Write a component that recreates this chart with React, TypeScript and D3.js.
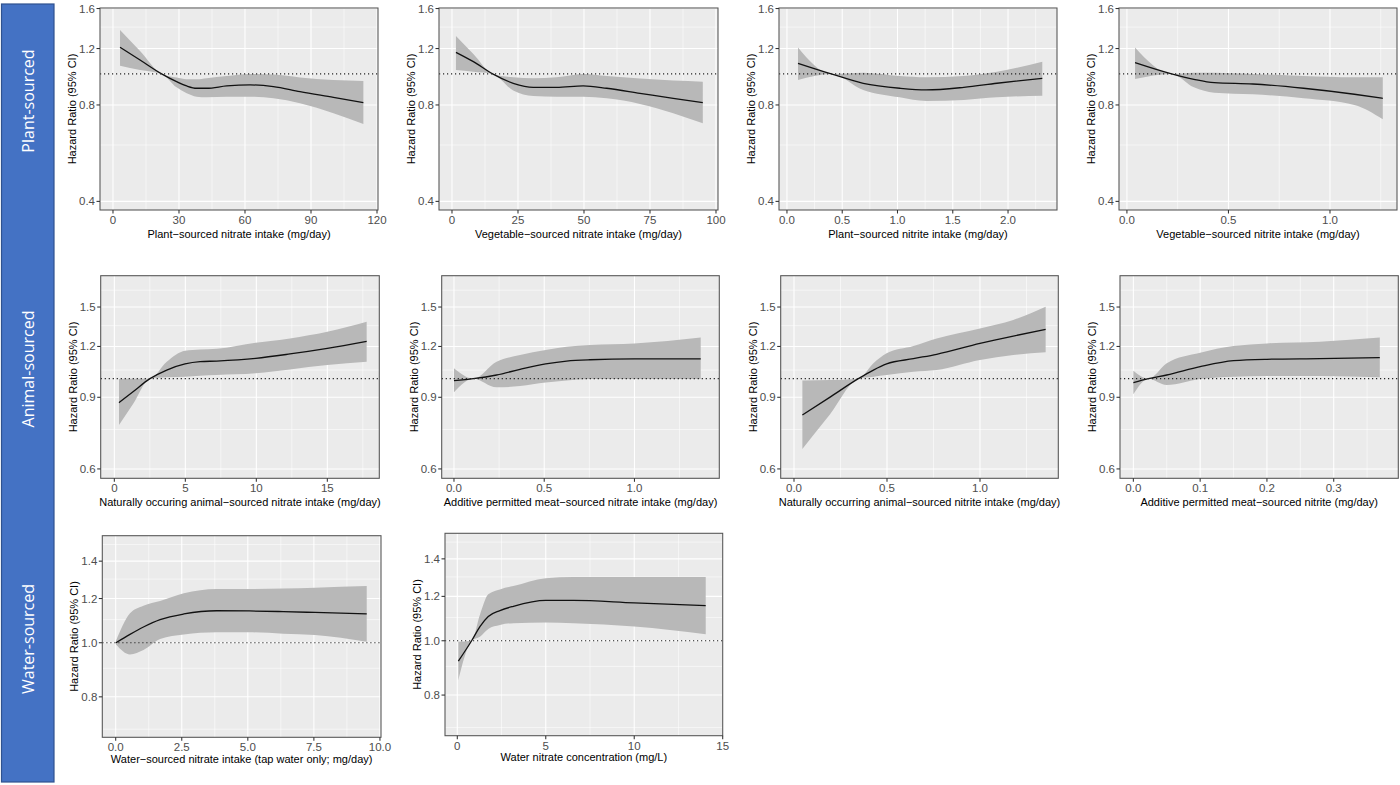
import * as d3 from "d3";
import React from "react";

// hazard ratio curves (x in intake units, HR with 95% CI)
const plantNitrateX = [3.2, 12.3, 22.1, 28.9, 33.5, 38.0, 42.6, 51.7, 62.3, 72.9, 85.0, 100.2, 113.8];
const plantNitrateHr = [1.211, 1.105, 1.0, 0.946, 0.917, 0.902, 0.902, 0.917, 0.924, 0.913, 0.88, 0.845, 0.814];
const plantNitrateLo = [1.061, 1.029, 1.0, 0.908, 0.87, 0.849, 0.845, 0.849, 0.849, 0.839, 0.81, 0.754, 0.698];
const plantNitrateHi = [1.371, 1.18, 1.0, 0.974, 0.962, 0.962, 0.97, 0.985, 1.0, 0.995, 0.975, 0.957, 0.951];

const vegNitrateX = [1.5, 8.1, 15.4, 23.2, 30.8, 39.6, 49.7, 58.6, 71.2, 83.8, 95.0];
const vegNitrateHr = [1.168, 1.092, 1.0, 0.935, 0.908, 0.908, 0.917, 0.902, 0.87, 0.839, 0.814];
const vegNitrateLo = [1.029, 1.016, 1.0, 0.887, 0.853, 0.849, 0.849, 0.839, 0.806, 0.754, 0.701];
const vegNitrateHi = [1.313, 1.154, 1.0, 0.976, 0.969, 0.976, 1.0, 0.985, 0.967, 0.953, 0.946];

const plantNitriteX = [0.1, 0.4, 0.69, 1.02, 1.26, 1.6, 1.9, 2.31];
const plantNitriteHr = [1.079, 1.0, 0.935, 0.902, 0.891, 0.908, 0.935, 0.969];
const plantNitriteLo = [0.957, 1.0, 0.891, 0.845, 0.823, 0.829, 0.845, 0.855];
const plantNitriteHi = [1.208, 1.0, 1.009, 0.985, 0.976, 0.985, 1.016, 1.092];

const vegNitriteX = [0.04, 0.22, 0.33, 0.43, 0.62, 0.87, 1.12, 1.26];
const vegNitriteHr = [1.084, 1.0, 0.962, 0.939, 0.93, 0.902, 0.864, 0.839];
const vegNitriteLo = [0.964, 1.0, 0.908, 0.874, 0.864, 0.839, 0.8, 0.722];
const vegNitriteHi = [1.208, 1.0, 1.009, 1.009, 1.0, 0.985, 0.976, 0.976];

const animalNitrateX = [0.33, 1.34, 2.51, 3.69, 4.98, 6.04, 7.21, 9.96, 12.37, 15.0, 17.77];
const animalNitrateHr = [0.873, 0.93, 1.0, 1.05, 1.087, 1.101, 1.105, 1.122, 1.15, 1.187, 1.235];
const animalNitrateLo = [0.769, 0.869, 1.0, 1.008, 1.011, 1.017, 1.021, 1.031, 1.054, 1.08, 1.101];
const animalNitrateHi = [0.998, 0.999, 1.0, 1.101, 1.172, 1.18, 1.185, 1.226, 1.256, 1.304, 1.38];

const meatNitrateX = [0.0, 0.107, 0.236, 0.366, 0.508, 0.624, 0.753, 0.999, 1.367];
const meatNitrateHr = [0.989, 1.0, 1.021, 1.054, 1.087, 1.105, 1.113, 1.118, 1.118];
const meatNitrateLo = [0.926, 1.0, 0.952, 0.959, 0.978, 0.989, 0.998, 0.998, 0.998];
const meatNitrateHi = [1.06, 1.0, 1.101, 1.143, 1.176, 1.198, 1.21, 1.221, 1.263];

const animalNitriteX = [0.045, 0.194, 0.346, 0.427, 0.498, 0.642, 0.767, 1.0, 1.179, 1.353];
const animalNitriteHr = [0.814, 0.901, 1.0, 1.05, 1.087, 1.12, 1.148, 1.221, 1.273, 1.322];
const animalNitriteLo = [0.672, 0.818, 1.0, 1.011, 1.021, 1.04, 1.05, 1.111, 1.143, 1.161];
const animalNitriteHi = [0.989, 0.992, 1.0, 1.091, 1.154, 1.203, 1.256, 1.329, 1.394, 1.503];

const meatNitriteX = [0.0, 0.0225, 0.05, 0.1, 0.15, 0.2, 0.279, 0.369];
const meatNitriteHr = [0.978, 1.0, 1.021, 1.07, 1.107, 1.116, 1.12, 1.126];
const meatNitriteLo = [0.915, 1.0, 0.965, 0.998, 1.011, 1.015, 1.015, 1.008];
const meatNitriteHi = [1.046, 1.0, 1.091, 1.158, 1.203, 1.221, 1.233, 1.263];

const tapWaterX = [0.01, 0.54, 1.05, 1.68, 2.58, 3.82, 5.06, 6.34, 7.54, 9.5];
const tapWaterHr = [1.0, 1.035, 1.067, 1.1, 1.126, 1.141, 1.14, 1.137, 1.133, 1.126];
const tapWaterLo = [0.993, 0.953, 0.97, 1.015, 1.035, 1.044, 1.044, 1.038, 1.032, 1.004];
const tapWaterHi = [1.007, 1.129, 1.165, 1.188, 1.226, 1.248, 1.248, 1.251, 1.255, 1.263];

const waterConcX = [0.06, 0.81, 1.28, 1.75, 2.41, 3.17, 5.0, 6.56, 10.0, 14.04];
const waterConcHr = [0.92, 1.0, 1.06, 1.105, 1.132, 1.152, 1.18, 1.18, 1.168, 1.155];
const waterConcLo = [0.849, 1.0, 1.017, 1.05, 1.067, 1.075, 1.078, 1.075, 1.06, 1.027];
const waterConcHi = [0.996, 1.0, 1.113, 1.21, 1.235, 1.252, 1.293, 1.3, 1.3, 1.3];

// axes
const rowYTicks = [
  [0.4, 0.8, 1.2, 1.6],
  [0.6, 0.9, 1.2, 1.5],
  [0.8, 1.0, 1.2, 1.4],
];
const rowYDomains: [number, number][] = [[0.376, 1.606], [0.569, 1.791], [0.677, 1.555]];
const rowLabels = ["Plant-sourced", "Animal-sourced", "Water-sourced"];

type Panel = {
  title: string; row: number;
  x: number[]; hr: number[]; lo: number[]; hi: number[];
  xTicks: number[]; xFmt: string; xDomain: [number, number];
};

const panels: Panel[] = [
  { title: "Plant\u2212sourced nitrate intake (mg/day)", row: 0, x: plantNitrateX, hr: plantNitrateHr, lo: plantNitrateLo, hi: plantNitrateHi, xTicks: [0, 30, 60, 90, 120], xFmt: "d", xDomain: [-5.9, 120.45] },
  { title: "Vegetable\u2212sourced nitrate intake (mg/day)", row: 0, x: vegNitrateX, hr: vegNitrateHr, lo: vegNitrateLo, hi: vegNitrateHi, xTicks: [0, 25, 50, 75, 100], xFmt: "d", xDomain: [-4.92, 100.76] },
  { title: "Plant\u2212sourced nitrite intake (mg/day)", row: 0, x: plantNitriteX, hr: plantNitriteHr, lo: plantNitriteLo, hi: plantNitriteHi, xTicks: [0, 0.5, 1, 1.5, 2], xFmt: ".1f", xDomain: [-0.072, 2.443] },
  { title: "Vegetable\u2212sourced nitrite intake (mg/day)", row: 0, x: vegNitriteX, hr: vegNitriteHr, lo: vegNitriteLo, hi: vegNitriteHi, xTicks: [0, 0.5, 1], xFmt: ".1f", xDomain: [-0.039, 1.33] },
  { title: "Naturally occuring animal\u2212sourced nitrate intake (mg/day)", row: 1, x: animalNitrateX, hr: animalNitrateHr, lo: animalNitrateLo, hi: animalNitrateHi, xTicks: [0, 5, 10, 15], xFmt: "d", xDomain: [-0.96, 18.66] },
  { title: "Additive permitted meat\u2212sourced nitrate intake (mg/day)", row: 1, x: meatNitrateX, hr: meatNitrateHr, lo: meatNitrateLo, hi: meatNitrateHi, xTicks: [0, 0.5, 1], xFmt: ".1f", xDomain: [-0.068, 1.47] },
  { title: "Naturally occurring animal\u2212sourced nitrite intake (mg/day)", row: 1, x: animalNitriteX, hr: animalNitriteHr, lo: animalNitriteLo, hi: animalNitriteHi, xTicks: [0, 0.5, 1], xFmt: ".1f", xDomain: [-0.0715, 1.421] },
  { title: "Additive permitted meat\u2212sourced nitrite (mg/day)", row: 1, x: meatNitriteX, hr: meatNitriteHr, lo: meatNitriteLo, hi: meatNitriteHi, xTicks: [0, 0.1, 0.2, 0.3], xFmt: ".1f", xDomain: [-0.02, 0.3967] },
  { title: "Water\u2212sourced nitrate intake (tap water only; mg/day)", row: 2, x: tapWaterX, hr: tapWaterHr, lo: tapWaterLo, hi: tapWaterHi, xTicks: [0, 2.5, 5, 7.5, 10], xFmt: ".1f", xDomain: [-0.507, 10.04] },
  { title: "Water nitrate concentration (mg/L)", row: 2, x: waterConcX, hr: waterConcHr, lo: waterConcLo, hi: waterConcHi, xTicks: [0, 5, 10, 15], xFmt: "d", xDomain: [-0.695, 15.0] },
];

// panel boxes [left, top, width, height] in page pixels
const layout: [number, number, number, number][] = [
  [100, 8, 278, 202], [439, 8, 279, 202], [779, 8, 278, 202], [1119, 8, 278, 202],
  [100.7, 275.7, 278.6, 202.6], [441.7, 275.7, 277.6, 202.6], [780.7, 275.7, 277.6, 202.6], [1120, 275.7, 278.3, 202.6],
  [102.3, 535.7, 278.7, 201.6], [445, 533.3, 277.7, 202.4],
];
// baseline of the x title below the panel, per row
const titleGap = [27.5, 27.5, 25.2];

const FONT = "'Liberation Sans', Arial, Helvetica, sans-serif";

function minorBreaks(major: number[], dom: [number, number]) {
  const step = major[1] - major[0];
  const ext = [major[0] - step, ...major, major[major.length - 1] + step];
  const out: number[] = [];
  for (let i = 0; i < ext.length - 1; i++) {
    const m = (ext[i] + ext[i + 1]) / 2;
    if (m > dom[0] && m < dom[1]) out.push(m);
  }
  return out;
}

type Pt = { x: number; hr: number; lo: number; hi: number };

const PanelChart = ({ p, box }: { p: Panel; box: [number, number, number, number] }) => {
  const [l, t, w, h] = box;
  const yDomain = rowYDomains[p.row];
  const yTicks = rowYTicks[p.row];
  const x = d3.scaleLinear().domain(p.xDomain).range([l, l + w]);
  const y = d3.scaleLog().domain(yDomain).range([t + h, t]);
  const pts: Pt[] = p.x.map((xv, i) => ({ x: xv, hr: p.hr[i], lo: p.lo[i], hi: p.hi[i] }));
  const area = d3.area<Pt>().x(d => x(d.x)).y0(d => y(d.lo)).y1(d => y(d.hi)).curve(d3.curveMonotoneX);
  const line = d3.line<Pt>().x(d => x(d.x)).y(d => y(d.hr)).curve(d3.curveMonotoneX);
  const fx = d3.format(p.xFmt);
  const fy = d3.format(".1f");
  const xMinor = minorBreaks(p.xTicks, p.xDomain);
  const yMinor = minorBreaks(yTicks, yDomain);
  const bottom = t + h;

  return (
    <g>
      <rect x={l} y={t} width={w} height={h} fill="#EBEBEB" />
      {xMinor.map(v => <line key={"xm" + v} x1={x(v)} x2={x(v)} y1={t} y2={bottom} stroke="#fff" strokeWidth={0.55} />)}
      {yMinor.map(v => <line key={"ym" + v} x1={l} x2={l + w} y1={y(v)} y2={y(v)} stroke="#fff" strokeWidth={0.55} />)}
      {p.xTicks.map(v => <line key={"xg" + v} x1={x(v)} x2={x(v)} y1={t} y2={bottom} stroke="#fff" strokeWidth={1.07} />)}
      {yTicks.map(v => <line key={"yg" + v} x1={l} x2={l + w} y1={y(v)} y2={y(v)} stroke="#fff" strokeWidth={1.07} />)}
      <path d={area(pts) || ""} fill="#B8B8B8" />
      <path d={line(pts) || ""} fill="none" stroke="#111" strokeWidth={1.3} />
      <line x1={l} x2={l + w} y1={y(1)} y2={y(1)} stroke="#222" strokeWidth={1.1} strokeDasharray="1.2 2.8" />
      <rect x={l} y={t} width={w} height={h} fill="none" stroke="#555" strokeWidth={1.07} />
      {p.xTicks.map(v => (
        <g key={"xt" + v}>
          <line x1={x(v)} x2={x(v)} y1={bottom} y2={bottom + 3.5} stroke="#333" strokeWidth={1.07} />
          <text x={x(v)} y={bottom + 14} textAnchor="middle" fontSize={11.5} fill="#4D4D4D" fontFamily={FONT}>{fx(v)}</text>
        </g>
      ))}
      {yTicks.map(v => (
        <g key={"yt" + v}>
          <line x1={l - 3.5} x2={l} y1={y(v)} y2={y(v)} stroke="#333" strokeWidth={1.07} />
          <text x={l - 5} y={y(v)} dy="0.35em" textAnchor="end" fontSize={11.5} fill="#4D4D4D" fontFamily={FONT}>{fy(v)}</text>
        </g>
      ))}
      <text x={l + w / 2} y={bottom + titleGap[p.row]} textAnchor="middle" fontSize={11} fill="#000" fontFamily={FONT}>{p.title}</text>
      <text transform={`translate(${l - 28},${t + h / 2}) rotate(-90)`} dy="0.35em" textAnchor="middle" fontSize={11} fill="#000" fontFamily={FONT}>Hazard Ratio (95% CI)</text>
    </g>
  );
};

const stripCenters = [101, 369, 639];

export default function App() {
  return (
    <svg width={1400} height={785} style={{ position: "absolute", left: 0, top: 0, background: "#fff" }}>
      <rect x={1.5} y={4} width={52.5} height={778} fill="#4472C4" stroke="#2F528F" strokeWidth={1.2} />
      {rowLabels.map((lab, i) => (
        <text key={lab} transform={`translate(28,${stripCenters[i]}) rotate(-90)`} dy="0.35em" textAnchor="middle"
          fontSize={16} fill="#fff" fontFamily="'Open Sans', 'Noto Sans', sans-serif">{lab}</text>
      ))}
      {panels.map((p, i) => <PanelChart key={p.title} p={p} box={layout[i]} />)}
    </svg>
  );
}
